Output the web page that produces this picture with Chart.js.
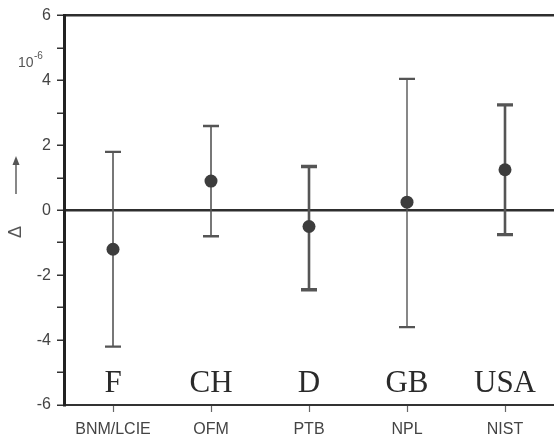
<!DOCTYPE html>
<html>
<head>
<meta charset="utf-8">
<script src="https://cdn.jsdelivr.net/npm/chart.js@4.4.1/dist/chart.umd.min.js"></script>
<style>
  html, body { margin: 0; padding: 0; background: #fff; }
</style>
</head>
<body>
<canvas id="chart" width="554" height="440"></canvas>
<script>
// labs and countries along the x axis
const labs = ['BNM/LCIE', 'OFM', 'PTB', 'NPL', 'NIST'];
const countries = ['F', 'CH', 'D', 'GB', 'USA'];
// deviation in units of 10^-6, with uncertainty range
const values = [-1.2, 0.9, -0.5, 0.25, 1.25];
const lower = [-4.2, -0.8, -2.45, -3.6, -0.75];
const upper = [1.8, 2.6, 1.35, 4.05, 3.25];
const yLabels = [-6, -4, -2, 0, 2, 4, 6];

// stroke width of each error bar (scan has some drawn heavier)
const barWidths = [1.6, 1.6, 2.6, 1.4, 2.6];

Chart.defaults.font.family = '"Liberation Sans", Arial, sans-serif';

const errorBars = {
  id: 'errorBars',
  beforeDatasetsDraw(chart) {
    const { ctx, scales: { x, y } } = chart;
    ctx.save();
    ctx.strokeStyle = '#555';
    labs.forEach((_, i) => {
      const px = x.getPixelForValue(i);
      const top = y.getPixelForValue(upper[i]);
      const bot = y.getPixelForValue(lower[i]);
      ctx.lineWidth = barWidths[i];
      ctx.beginPath();
      ctx.moveTo(px, top); ctx.lineTo(px, bot);
      ctx.stroke();
      ctx.lineWidth = barWidths[i] + 0.8;
      ctx.beginPath();
      ctx.moveTo(px - 8, top); ctx.lineTo(px + 8, top);
      ctx.moveTo(px - 8, bot); ctx.lineTo(px + 8, bot);
      ctx.stroke();
    });
    ctx.restore();
  },
  afterDraw(chart) {
    const { ctx, chartArea, scales: { x } } = chart;
    ctx.save();
    // country names inside the plot
    ctx.fillStyle = '#2a2a2a';
    ctx.font = '31px "Liberation Serif", "Times New Roman", serif';
    ctx.textAlign = 'center';
    ctx.textBaseline = 'alphabetic';
    countries.forEach((c, i) => {
      ctx.fillText(c, x.getPixelForValue(i), chartArea.bottom - 13);
    });
    // unit 10^-6
    ctx.fillStyle = '#555';
    ctx.textAlign = 'left';
    ctx.font = '14px "Liberation Sans", Arial, sans-serif';
    ctx.fillText('10', 18, 67);
    ctx.font = '10px "Liberation Sans", Arial, sans-serif';
    ctx.fillText('-6', 34, 59);
    // rotated axis label with arrow
    ctx.translate(16, 232);
    ctx.rotate(-Math.PI / 2);
    ctx.font = '18px "Liberation Sans", Arial, sans-serif';
    ctx.textBaseline = 'middle';
    ctx.textAlign = 'center';
    ctx.fillText('\u0394', 0, 0);
    ctx.strokeStyle = '#555';
    ctx.lineWidth = 1.4;
    ctx.beginPath();
    ctx.moveTo(38, 0); ctx.lineTo(70, 0);
    ctx.stroke();
    ctx.beginPath();
    ctx.moveTo(76, 0); ctx.lineTo(67, -3.5); ctx.lineTo(67, 3.5); ctx.closePath();
    ctx.fillStyle = '#555';
    ctx.fill();
    ctx.restore();
  }
};

new Chart(document.getElementById('chart'), {
  type: 'line',
  data: {
    labels: labs,
    datasets: [{
      data: values,
      showLine: false,
      pointRadius: 6.5,
      pointBackgroundColor: '#3d3d3d',
      pointBorderColor: '#3d3d3d',
      pointBorderWidth: 0
    }]
  },
  options: {
    responsive: false,
    animation: false,
    layout: { autoPadding: false, padding: { top: 15, right: 0, left: 0, bottom: 0 } },
    plugins: { legend: { display: false }, tooltip: { enabled: false } },
    scales: {
      x: {
        type: 'category',
        offset: true,
        afterFit: s => { s.height = 35; s.paddingLeft = 0; s.paddingRight = 0; },
        border: { color: '#333', width: 2 },
        grid: { drawOnChartArea: false, color: 'rgba(0,0,0,0)', tickColor: '#666', tickLength: 7, tickWidth: 1.2 },
        ticks: { color: '#444', font: { size: 16 }, padding: 8, maxRotation: 0, autoSkip: false }
      },
      y: {
        min: -6,
        max: 6,
        afterFit: s => { s.width = 64; },
        border: { color: '#222', width: 3 },
        grid: {
          color: c => (c.tick && (c.tick.value === 0 || c.tick.value === 6)) ? '#2e2e2e' : 'rgba(0,0,0,0)',
          lineWidth: 2.5,
          tickColor: '#333',
          tickLength: 7,
          tickWidth: 1.5
        },
        ticks: {
          stepSize: 1,
          color: '#444',
          font: { size: 16 },
          padding: 6,
          callback: v => yLabels.includes(v) ? String(v) : ''
        }
      }
    }
  },
  plugins: [errorBars]
});
</script>
</body>
</html>
